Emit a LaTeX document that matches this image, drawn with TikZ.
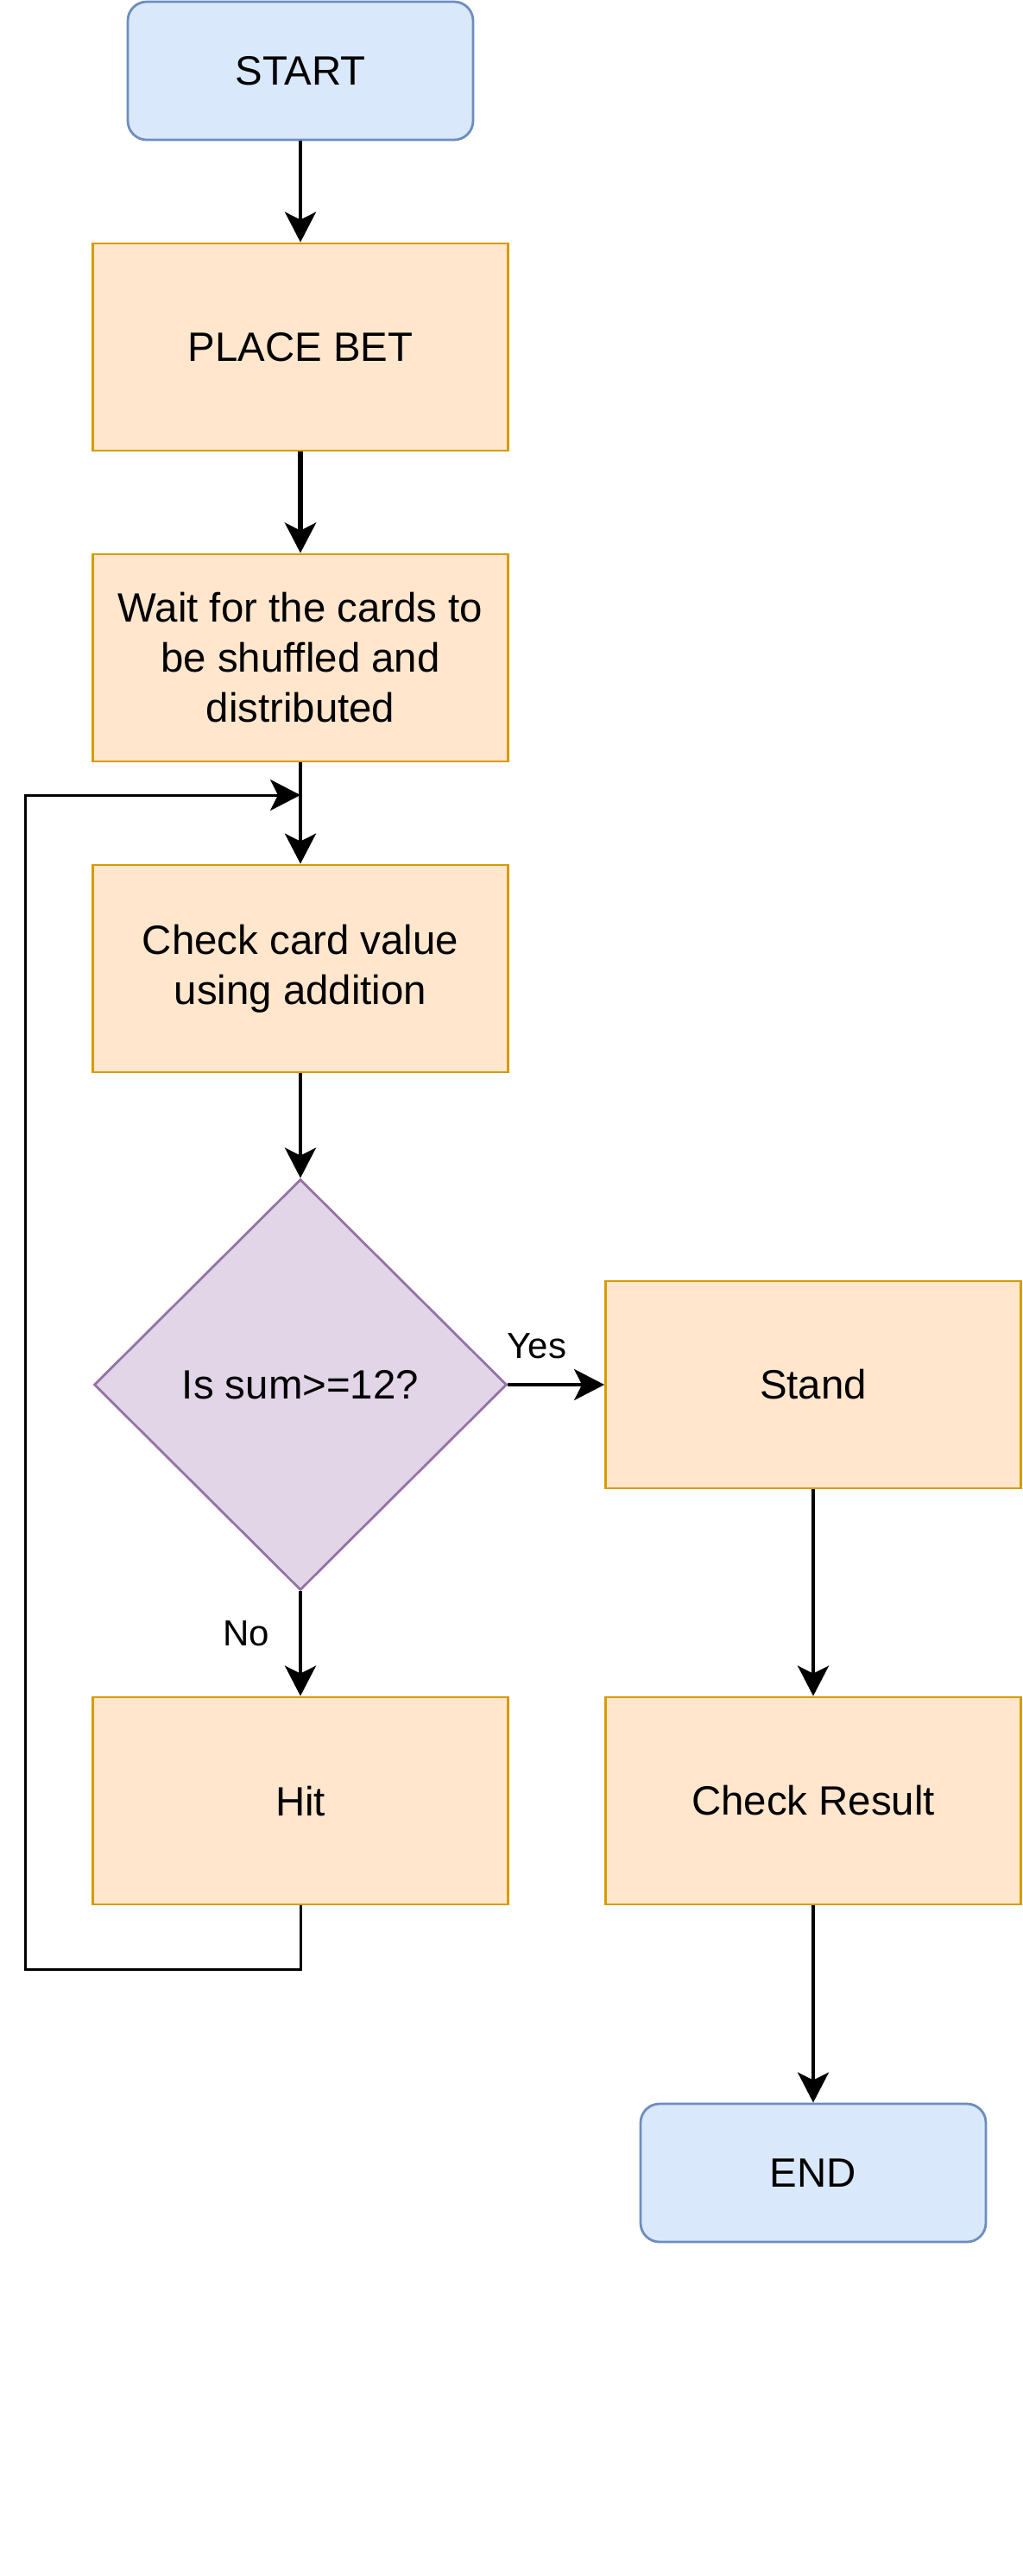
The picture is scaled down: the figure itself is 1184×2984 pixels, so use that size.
\documentclass[tikz,border=0pt]{standalone}
\usepackage{fontspec}
\setmainfont{Liberation Sans}
\usetikzlibrary{arrows.meta,shapes.geometric}
\definecolor{bfill}{HTML}{DAE8FC}
\definecolor{bdraw}{HTML}{6C8EBF}
\definecolor{ofill}{HTML}{FFE6CC}
\definecolor{odraw}{HTML}{D79B00}
\definecolor{pfill}{HTML}{E1D5E7}
\definecolor{pdraw}{HTML}{9673A6}
\begin{document}
\begin{tikzpicture}[x=0.5pt,y=-0.5pt,
  base/.style={font=\fontsize{23.7}{29}\selectfont, align=center, inner sep=0pt, line width=1.4pt},
  term/.style={base, rectangle, rounded corners=11pt, fill=bfill, draw=bdraw, minimum width=200pt, minimum height=80pt},
  proc/.style={base, rectangle, fill=ofill, draw=odraw, minimum width=240.5pt, minimum height=120pt},
  decis/.style={base, diamond, aspect=1, fill=pfill, draw=pdraw, minimum width=239pt, minimum height=238pt},
  arr/.style={line width=1.9pt, -{Stealth[length=17.5pt,width=18pt,inset=4.5pt]}},
  lbl/.style={font=\fontsize{21}{25}\selectfont, inner sep=0pt}]
\useasboundingbox (0,0) rectangle (1184,2984);

\node[term] (start) at (348,82) {START};
\node[proc] (place) at (348,402) {PLACE BET};
\node[proc] (wait) at (348,762) {Wait for the cards to\\be shuffled and\\distributed};
\node[proc] (check) at (348,1122) {Check card value\\using addition};
\node[decis] (dia) at (348,1604) {Is sum>=12?};
\node[proc] (stand) at (942,1604) {Stand};
\node[proc] (hit) at (348,2086) {Hit};
\node[proc] (cres) at (942,2086) {Check Result};
\node[term] (end) at (942,2517) {END};

\coordinate (lb) at (29.5,2281);
\coordinate (join) at (348,921);

\draw[arr] (start) -- (place);
\draw[arr, line width=2.85pt] (place) -- (wait);
\draw[arr] (wait) -- (check);
\draw[arr] (check) -- (dia);
\draw[arr] (dia.east) -- (stand.west) node[lbl, pos=0.3, above=14pt] (yes) {Yes};
\draw[arr] (dia.south) -- (hit.north) node[lbl, pos=0.4, left=17pt] (no) {No};
\draw[arr] (stand) -- (cres);
\draw[arr] (cres) -- (end);
\draw[arr, line width=1.5pt] (hit.south) |- (lb) |- (join);
\end{tikzpicture}
\end{document}
